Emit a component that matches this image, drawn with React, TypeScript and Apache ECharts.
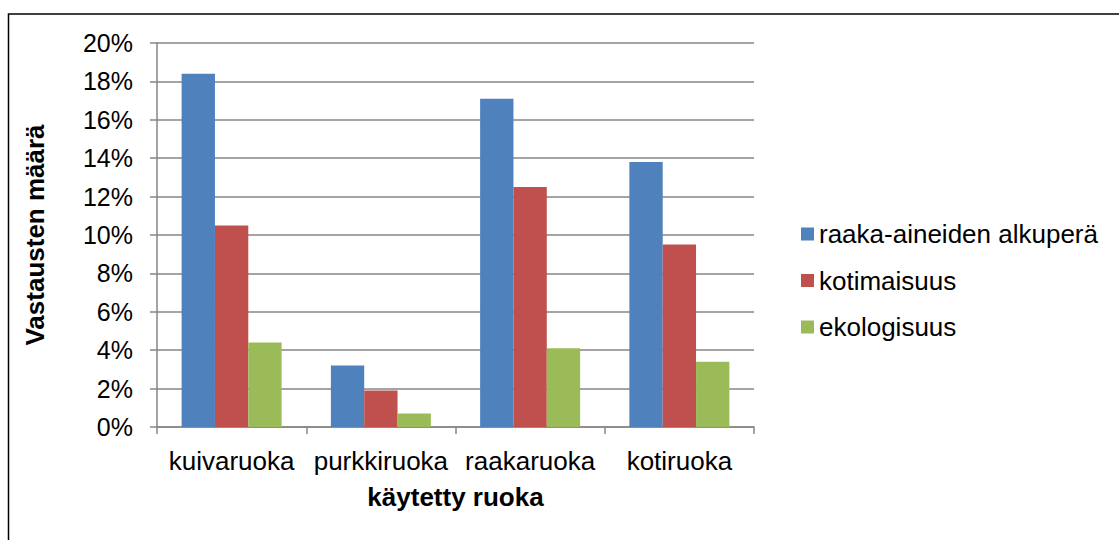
import React, { useEffect, useRef } from "react";
import * as echarts from "echarts";

const categories = ["kuivaruoka", "purkkiruoka", "raakaruoka", "kotiruoka"];
const seriesNames = ["raaka-aineiden alkuperä", "kotimaisuus", "ekologisuus"];
const alkupera = [18.4, 3.2, 17.1, 13.8];
const kotimaisuus = [10.5, 1.9, 12.5, 9.5];
const ekologisuus = [4.4, 0.7, 4.1, 3.4];
const colors = ["#4F81BD", "#C0504D", "#9BBB59"];
const yTitle = "Vastausten määrä";
const xTitle = "käytetty ruoka";

const FONT = "'Liberation Sans', Arial, sans-serif";

export default function App() {
  const ref = useRef<HTMLDivElement>(null);
  useEffect(() => {
    if (!ref.current) return;
    const chart = echarts.init(ref.current, null, { renderer: "svg" });
    const values = [alkupera, kotimaisuus, ekologisuus];
    chart.setOption({
      animation: false,
      backgroundColor: "#ffffff",
      textStyle: { fontFamily: FONT },
      grid: { left: 157, top: 43, width: 597, height: 384, containLabel: false },
      legend: {
        orient: "vertical",
        left: 796,
        top: 216,
        itemWidth: 13,
        itemHeight: 13,
        itemGap: 20.5,
        icon: "rect",
        data: seriesNames,
        textStyle: { fontSize: 26, color: "#000", fontFamily: FONT },
      },
      xAxis: {
        type: "category",
        data: categories,
        name: xTitle,
        nameLocation: "middle",
        nameGap: 57,
        nameTextStyle: { fontSize: 26, fontWeight: "bold", color: "#000", fontFamily: FONT },
        axisLine: { lineStyle: { color: "#868686", width: 1.5 } },
        axisTick: { show: true, interval: 0, length: 7, lineStyle: { color: "#868686", width: 1.5 } },
        axisLabel: { interval: 0, fontSize: 26, color: "#000", margin: 21, fontFamily: FONT },
      },
      yAxis: {
        type: "value",
        min: 0,
        max: 20,
        interval: 2,
        name: yTitle,
        nameLocation: "middle",
        nameGap: 109,
        nameRotate: 90,
        nameTextStyle: { fontSize: 26, fontWeight: "bold", color: "#000", fontFamily: FONT },
        axisLine: { show: true, lineStyle: { color: "#868686", width: 1.5 } },
        axisTick: { show: true, length: 7, lineStyle: { color: "#868686", width: 1.5 } },
        axisLabel: { formatter: "{value}%", fontSize: 25, color: "#000", margin: 24, fontFamily: FONT },
        splitLine: { show: true, lineStyle: { color: "#868686", width: 1.5 } },
      },
      series: seriesNames.map((n, i) => ({
        name: n,
        type: "bar",
        data: values[i],
        barGap: "0%",
        barCategoryGap: "33%",
        itemStyle: { color: colors[i] },
      })),
      graphic: [
        {
          type: "rect",
          silent: true,
          z: 100,
          shape: { x: 8.5, y: 14, width: 1120, height: 540 },
          style: { fill: "none", stroke: "#000", lineWidth: 1.5 },
        },
      ],
    });
    return () => chart.dispose();
  }, []);
  return (
    <div
      ref={ref}
      style={{ position: "absolute", left: 0, top: 0, width: 1119, height: 540 }}
    />
  );
}
